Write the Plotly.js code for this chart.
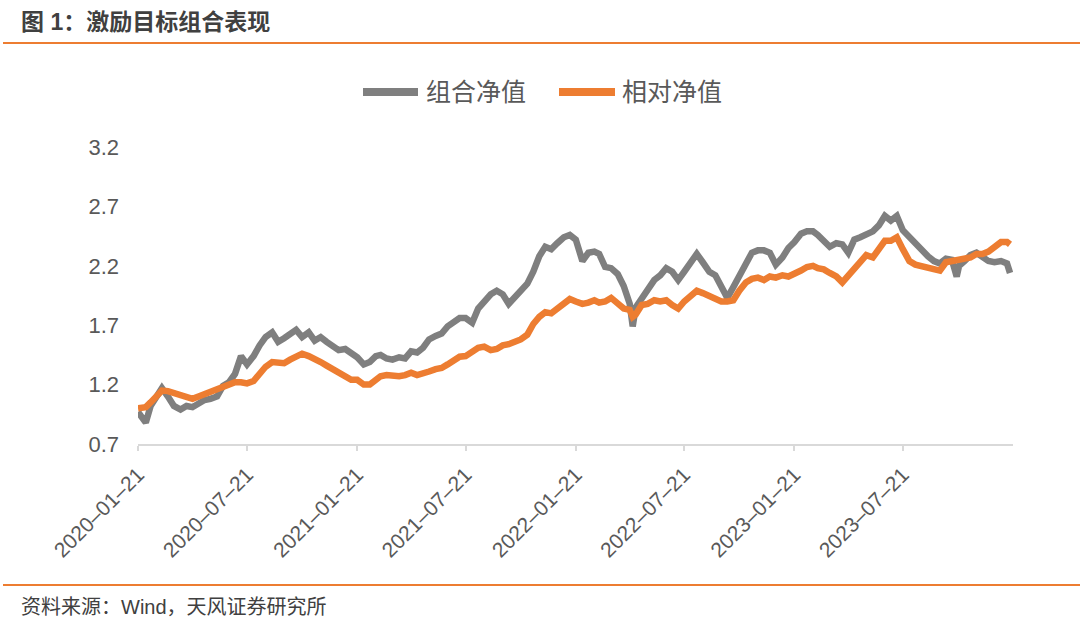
<!DOCTYPE html>
<html>
<head>
<meta charset="utf-8">
<script src="https://cdn.plot.ly/plotly-3.0.1.min.js"></script>
<style>
html,body{margin:0;padding:0;background:#fff;}
#chart{width:1080px;height:625px;}
</style>
</head>
<body>
<div id="chart"></div>
<script>
const dates = [
"2020-01-21","2020-02-03","2020-02-11","2020-02-21","2020-03-01","2020-03-11","2020-03-21","2020-04-01","2020-04-11","2020-04-21","2020-05-01","2020-05-11","2020-05-21","2020-06-01","2020-06-11","2020-06-21","2020-07-01","2020-07-11","2020-07-21","2020-08-01","2020-08-11","2020-08-21","2020-09-01","2020-09-11","2020-09-21","2020-10-01","2020-10-11","2020-10-21","2020-11-01","2020-11-11","2020-11-21","2020-12-01","2020-12-11","2020-12-21","2021-01-01","2021-01-11","2021-01-21",
"2021-02-01","2021-02-11","2021-02-21","2021-03-01","2021-03-11","2021-03-21","2021-04-01","2021-04-11","2021-04-21","2021-05-01","2021-05-11","2021-05-21","2021-06-01","2021-06-11","2021-06-21","2021-07-01","2021-07-11","2021-07-21","2021-08-01","2021-08-11","2021-08-21","2021-09-01","2021-09-11","2021-09-21","2021-10-01","2021-10-11","2021-10-21","2021-11-01","2021-11-11","2021-11-21","2021-12-01","2021-12-11","2021-12-21","2022-01-01","2022-01-11","2022-01-21",
"2022-02-01","2022-02-11","2022-02-21","2022-03-01","2022-03-11","2022-03-21","2022-04-01","2022-04-11","2022-04-21","2022-04-26","2022-05-01","2022-05-11","2022-05-21","2022-06-01","2022-06-11","2022-06-21","2022-07-01","2022-07-11","2022-07-21","2022-08-01","2022-08-11","2022-08-21","2022-09-01","2022-09-11","2022-09-21","2022-10-01","2022-10-11","2022-10-21","2022-11-01","2022-11-11","2022-11-21","2022-12-01","2022-12-11","2022-12-21","2023-01-01","2023-01-11","2023-01-21",
"2023-02-01","2023-02-11","2023-02-21","2023-03-01","2023-03-11","2023-03-21","2023-04-01","2023-04-11","2023-04-21","2023-05-01","2023-05-11","2023-05-21","2023-06-01","2023-06-11","2023-06-21","2023-07-01","2023-07-11","2023-07-21","2023-08-01","2023-08-11","2023-08-21","2023-09-01","2023-09-11","2023-09-21","2023-10-01","2023-10-11","2023-10-19","2023-10-23","2023-11-01","2023-11-11","2023-11-21","2023-12-01","2023-12-11","2023-12-21","2024-01-01","2024-01-11","2024-01-16"
];

// 组合净值
const portfolioNav = [
0.97,0.88,1.02,1.10,1.17,1.10,1.02,0.99,1.02,1.01,1.04,1.07,1.08,1.10,1.19,1.22,1.29,1.44,1.37,1.44,1.53,1.60,1.64,1.56,1.59,1.62,1.66,1.60,1.64,1.57,1.60,1.56,1.53,1.49,1.50,1.47,1.43,
1.37,1.39,1.44,1.45,1.42,1.41,1.43,1.42,1.48,1.47,1.51,1.58,1.61,1.63,1.69,1.73,1.76,1.76,1.72,1.84,1.90,1.96,1.99,1.96,1.88,1.94,1.98,2.05,2.15,2.28,2.36,2.34,2.39,2.44,2.46,2.42,
2.24,2.31,2.32,2.30,2.19,2.18,2.13,2.03,1.88,1.69,1.85,1.93,2.00,2.08,2.12,2.18,2.15,2.08,2.15,2.23,2.30,2.23,2.15,2.12,2.03,1.93,2.02,2.12,2.24,2.31,2.33,2.33,2.31,2.21,2.27,2.35,2.40,
2.47,2.49,2.49,2.46,2.40,2.36,2.39,2.38,2.31,2.42,2.44,2.47,2.49,2.54,2.62,2.58,2.62,2.50,2.44,2.38,2.32,2.28,2.24,2.22,2.26,2.25,2.11,2.20,2.24,2.29,2.31,2.27,2.24,2.23,2.24,2.22,2.14
];

// 相对净值
const relativeNav = [
1.00,1.01,1.05,1.10,1.15,1.145,1.13,1.11,1.10,1.08,1.10,1.12,1.14,1.165,1.19,1.21,1.22,1.22,1.21,1.23,1.29,1.35,1.39,1.39,1.38,1.41,1.44,1.46,1.44,1.42,1.39,1.36,1.33,1.30,1.27,1.24,1.24,
1.20,1.20,1.24,1.27,1.28,1.27,1.27,1.28,1.30,1.28,1.29,1.31,1.33,1.34,1.37,1.41,1.435,1.44,1.47,1.51,1.52,1.49,1.50,1.53,1.54,1.56,1.58,1.62,1.71,1.77,1.81,1.80,1.84,1.88,1.92,1.90,
1.88,1.89,1.91,1.89,1.90,1.93,1.88,1.84,1.83,1.77,1.79,1.87,1.88,1.91,1.90,1.91,1.87,1.84,1.90,1.95,1.99,1.97,1.94,1.92,1.90,1.90,1.91,1.99,2.06,2.09,2.10,2.08,2.11,2.10,2.12,2.11,2.13,
2.16,2.19,2.20,2.18,2.17,2.14,2.11,2.06,2.12,2.17,2.23,2.29,2.27,2.35,2.41,2.41,2.44,2.34,2.24,2.21,2.20,2.19,2.17,2.16,2.23,2.24,2.25,2.25,2.26,2.27,2.30,2.30,2.32,2.36,2.40,2.40,2.38
];

const seriesNames = ["组合净值","相对净值"];
const xTickVals = ["2020-01-21","2020-07-21","2021-01-21","2021-07-21","2022-01-21","2022-07-21","2023-01-21","2023-07-21"];
const xTickText = ["2020–01–21","2020–07–21","2021–01–21","2021–07–21","2022–01–21","2022–07–21","2023–01–21","2023–07–21"];
const yTickVals = [0.7,1.2,1.7,2.2,2.7,3.2];
const yTickText = ["0.7","1.2","1.7","2.2","2.7","3.2"];

const FONT = "'Liberation Sans', Arial, 'Noto Sans CJK SC', sans-serif";
const GRAY = "#7f7f7f";
const ORANGE = "#ed7d31";

// pixel -> paper helpers for decorations (plot area 138..1013 x, 147..444 y)
const L = 138, R = 67, T = 147, B = 181, W = 1080, H = 625;
const pw = W - L - R, ph = H - T - B;
const px = v => (v - L) / pw;
const py = v => (H - B - v) / ph;

const traces = [
  {x: dates, y: portfolioNav, name: seriesNames[0], type: "scatter", mode: "lines",
   line: {color: GRAY, width: 6.5}, showlegend: false},
  {x: dates, y: relativeNav, name: seriesNames[1], type: "scatter", mode: "lines",
   line: {color: ORANGE, width: 6.5}, showlegend: false}
];

const layout = {
  width: W, height: H,
  margin: {l: L, r: R, t: T, b: B, pad: 0},
  paper_bgcolor: "#ffffff", plot_bgcolor: "#ffffff",
  font: {family: FONT, color: "#595959", size: 20},
  xaxis: {
    type: "date",
    range: ["2020-01-21", "2024-01-21"],
    tickvals: xTickVals, ticktext: xTickText,
    tickangle: -45,
    tickfont: {size: 21, color: "#595959", family: FONT},
    showgrid: false, zeroline: false,
    showline: true, linecolor: "#d9d9d9", linewidth: 2,
    ticks: "outside", ticklen: 5, tickcolor: "#d9d9d9", tickwidth: 2,
    ticklabelstandoff: 3
  },
  yaxis: {
    range: [0.7, 3.2],
    tickvals: yTickVals, ticktext: yTickText,
    tickfont: {size: 22, color: "#595959", family: FONT},
    showgrid: false, zeroline: false, showline: false,
    ticks: "", ticklabelstandoff: 18
  },
  shapes: [
    {type: "line", xref: "paper", yref: "paper", x0: px(3), x1: px(1080), y0: py(43), y1: py(43),
     line: {color: ORANGE, width: 2}},
    {type: "line", xref: "paper", yref: "paper", x0: px(3), x1: px(1080), y0: py(585), y1: py(585),
     line: {color: ORANGE, width: 2}},
    {type: "line", xref: "paper", yref: "paper", x0: px(363), x1: px(418), y0: py(92), y1: py(92),
     line: {color: GRAY, width: 8}},
    {type: "line", xref: "paper", yref: "paper", x0: px(559), x1: px(615), y0: py(92), y1: py(92),
     line: {color: ORANGE, width: 8}}
  ],
  annotations: [
    {xref: "paper", yref: "paper", x: px(19), y: py(22), xanchor: "left", yanchor: "middle",
     text: "<b>图 1：激励目标组合表现</b>", showarrow: false,
     font: {family: FONT, size: 23, color: "#404040"}},
    {xref: "paper", yref: "paper", x: px(19), y: py(607), xanchor: "left", yanchor: "middle",
     text: "资料来源：Wind，天风证券研究所", showarrow: false,
     font: {family: FONT, size: 20, color: "#404040"}},
    {xref: "paper", yref: "paper", x: px(424), y: py(92), xanchor: "left", yanchor: "middle",
     text: seriesNames[0], showarrow: false,
     font: {family: FONT, size: 25, color: "#595959"}},
    {xref: "paper", yref: "paper", x: px(620), y: py(92), xanchor: "left", yanchor: "middle",
     text: seriesNames[1], showarrow: false,
     font: {family: FONT, size: 25, color: "#595959"}}
  ]
};

Plotly.newPlot("chart", traces, layout, {staticPlot: true, displayModeBar: false});
</script>
</body>
</html>
